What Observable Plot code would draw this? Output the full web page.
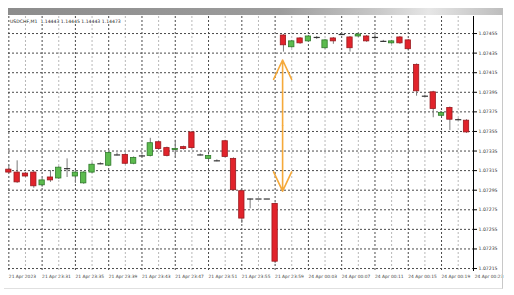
<!DOCTYPE html>
<html><head><meta charset="utf-8">
<script src="https://cdn.jsdelivr.net/npm/d3@7"></script>
<script src="https://cdn.jsdelivr.net/npm/@observablehq/plot@0.6"></script>
<style>
html,body{margin:0;padding:0;background:#fff;}
#wrap{position:relative;width:514px;height:295px;overflow:hidden;font-family:"DejaVu Sans",sans-serif;}
#wrap svg{position:absolute;left:0;top:0;}
#bar{position:absolute;left:8px;top:8px;width:495px;height:7px;background:linear-gradient(to right,#8c8c8c 0%,#9c9c9c 55%,#c9c9c9 75%,#e6e6e6 85%,#bdbdbd 100%);}
#title{position:absolute;left:10px;top:19px;font-size:4.6px;line-height:5px;color:#222;white-space:pre;background:#fff;}
#border{position:absolute;left:4px;top:8px;width:499px;height:281px;border-right:1px solid #c8c8c8;border-bottom:1px solid #e0e0e0;box-sizing:border-box;}
</style></head>
<body><div id="wrap"></div>
<script>
// ---- data ----
const opens  = [1.07316,1.07313,1.07312,1.07313,1.07300,1.07308,1.07307,1.07317,1.07309,1.07302,1.07313,1.07322,1.07320,1.07331,1.07331,1.07322,1.07330,1.07330,1.07344,1.07338,1.07336,1.07339,1.07354,1.07331,1.07327,1.07325,1.07345,1.07327,1.07294,1.07286,1.07286,1.07286,1.07281,
                1.07453,1.07441,1.07450,1.07447,1.07451,1.07440,1.07450,1.07454,1.07451,1.07452,1.07452,1.07451,1.07447,1.07445,1.07451,1.07448,1.07423,1.07391,1.07395,1.07371,1.07379,1.07367,1.07366];
const closes = [1.07313,1.07303,1.07309,1.07299,1.07305,1.07305,1.07318,1.07317,1.07313,1.07313,1.07321,1.07322,1.07333,1.07331,1.07322,1.07328,1.07330,1.07343,1.07337,1.07330,1.07337,1.07337,1.07338,1.07331,1.07330,1.07325,1.07329,1.07295,1.07266,1.07286,1.07286,1.07286,1.07222,
                1.07443,1.07447,1.07445,1.07452,1.07451,1.07448,1.07447,1.07454,1.07440,1.07454,1.07447,1.07451,1.07447,1.07447,1.07445,1.07439,1.07396,1.07391,1.07378,1.07374,1.07367,1.07367,1.07354];
const highs  = [1.07320,1.07325,1.07313,1.07314,1.07307,1.07315,1.07319,1.07327,1.07315,1.07314,1.07323,1.07323,1.07334,1.07333,1.07332,1.07329,1.07331,1.07348,1.07345,1.07339,1.07346,1.07340,1.07355,1.07332,1.07331,1.07326,1.07346,1.07328,1.07295,1.07286,1.07286,1.07286,1.07282,
                1.07454,1.07448,1.07451,1.07453,1.07452,1.07449,1.07451,1.07455,1.07452,1.07456,1.07453,1.07454,1.07448,1.07448,1.07452,1.07449,1.07424,1.07392,1.07396,1.07375,1.07380,1.07368,1.07367];
const lows   = [1.07312,1.07302,1.07308,1.07297,1.07298,1.07303,1.07306,1.07308,1.07302,1.07301,1.07312,1.07321,1.07319,1.07330,1.07321,1.07321,1.07329,1.07329,1.07336,1.07329,1.07328,1.07336,1.07337,1.07330,1.07325,1.07324,1.07328,1.07294,1.07261,1.07276,1.07286,1.07286,1.07220,
                1.07436,1.07440,1.07444,1.07446,1.07449,1.07439,1.07444,1.07453,1.07436,1.07451,1.07446,1.07448,1.07446,1.07444,1.07444,1.07437,1.07391,1.07390,1.07369,1.07370,1.07356,1.07366,1.07353];
const yTicks = [1.07455,1.07435,1.07415,1.07395,1.07375,1.07355,1.07335,1.07315,1.07295,1.07275,1.07255,1.07235,1.07215];
const xTickBars = [0,4,8,12,16,20,24,28,32,36,40,44,48,52,56];
const xTickLabels = ["21 Apr 2023","21 Apr 23:31","21 Apr 23:35","21 Apr 23:39","21 Apr 23:43","21 Apr 23:47","21 Apr 23:51","21 Apr 23:55","21 Apr 23:59","24 Apr 00:03","24 Apr 00:07","24 Apr 00:11","24 Apr 00:15","24 Apr 00:19","24 Apr 00:23"];
const minorBars = [2,6,10,14,18,22,26,30,34,38,42,46,50,54];
const gapBar = 32.9;
const gapLow = 1.07294;
const gapHigh = 1.07428;
const title = "USDCHF,M1  1.14443 1.14445 1.14443 1.14473";

// ---- build ----
const candles = opens.map((o,i)=>({i,o,c:closes[i],h:highs[i],l:lows[i]}));
const bodies = candles.filter(d=>d.c!==d.o);
const dojis = candles.filter(d=>d.c===d.o);
const gapMid = (gapLow+gapHigh)/2;
const arrows = [{x:gapBar,y1:gapMid,y2:gapHigh},{x:gapBar,y1:gapMid,y2:gapLow}];
const hw = 0.32;

const chart = Plot.plot({
  width: 514, height: 295,
  marginLeft: 8, marginRight: 41, marginTop: 16, marginBottom: 25,
  x: {domain: [-0.04, 55.84]},
  y: {domain: [1.07213, 1.074724]},
  style: {fontFamily: "DejaVu Sans", background: "transparent", color: "#333"},
  marks: [
    Plot.ruleX(minorBars, {stroke: "#b8b8b8", strokeDasharray: "2,2"}),
    Plot.ruleX(xTickBars.filter(b=>b<=55), {stroke: "#4a4a4a", strokeDasharray: "2,2"}),
    Plot.ruleY(yTicks, {stroke: "#4a4a4a", strokeDasharray: "2,2"}),
    Plot.ruleX(candles, {x: "i", y1: "l", y2: "h", stroke: "#7a7a7a", strokeWidth: 1}),
    Plot.rect(bodies, {
      x1: d=>d.i-hw, x2: d=>d.i+hw, y1: "o", y2: "c",
      fill: d=>d.c>d.o ? "#5cbb4e" : "#e1232b",
      stroke: d=>d.c>d.o ? "#2e7a2a" : "#9a1a1f", strokeWidth: 0.8
    }),
    Plot.link(dojis, {x1: d=>d.i-hw-0.05, x2: d=>d.i+hw+0.05, y1: "o", y2: "o", stroke: "#333", strokeWidth: 1.2}),
    Plot.arrow(arrows, {x1: "x", x2: "x", y1: "y1", y2: "y2", stroke: "#f5a93a", strokeWidth: 1.6, headLength: 20, headAngle: 50}),
    Plot.axisY({anchor: "right", ticks: yTicks, tickFormat: d=>d.toFixed(5), tickSize: 3, tickPadding: 2, fontSize: 4.6, fill: "#333", stroke: "#000"}),
    Plot.axisX({ticks: xTickBars, tickFormat: (d,k)=>xTickLabels[xTickBars.indexOf(d)], tickSize: 0, tickPadding: 4, textAnchor: "start", fontSize: 4.4, fill: "#444"}),
    Plot.frame({anchor: "right", stroke: "#000", strokeWidth: 1})
  ]
});
const wrap = document.getElementById("wrap");
wrap.appendChild(chart);
const border = document.createElement("div"); border.id = "border"; wrap.appendChild(border);
const bar = document.createElement("div"); bar.id = "bar"; wrap.appendChild(bar);
const t = document.createElement("div"); t.id = "title"; t.textContent = title; wrap.appendChild(t);
</script>
</body></html>
